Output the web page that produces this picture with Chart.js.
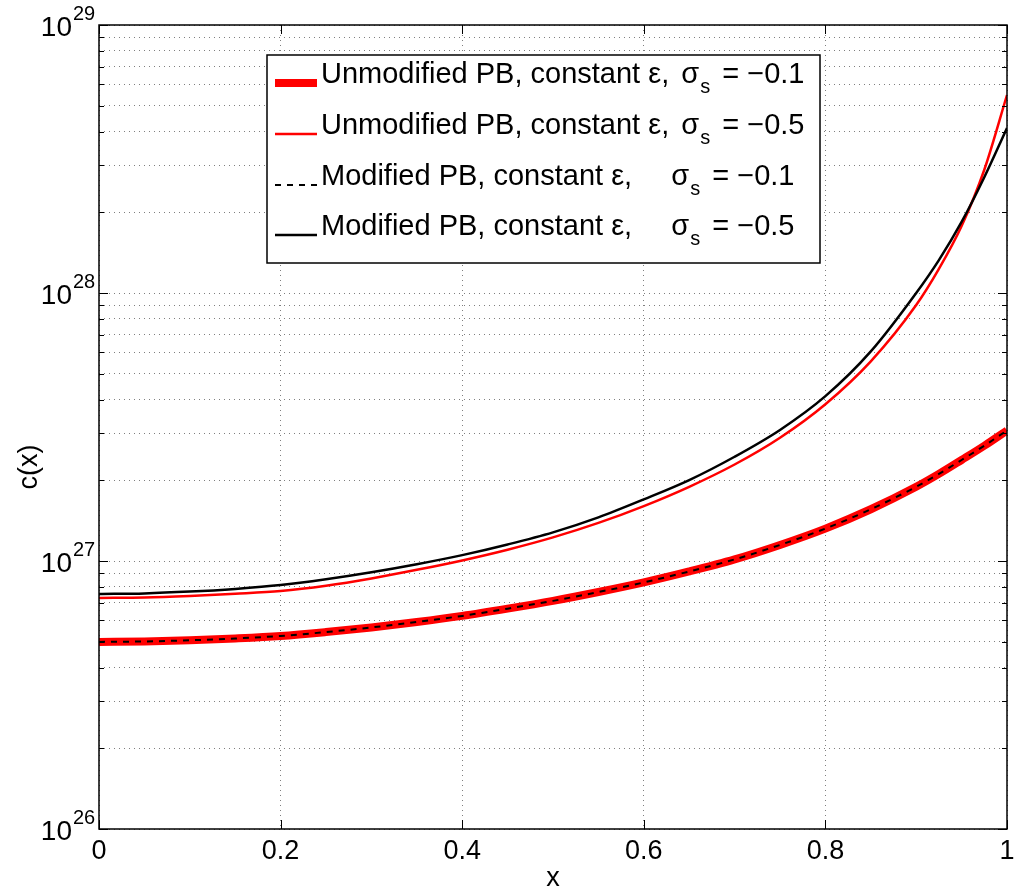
<!DOCTYPE html>
<html>
<head>
<meta charset="utf-8">
<script src="https://cdn.jsdelivr.net/npm/chart.js@4.4.0/dist/chart.umd.min.js"></script>
<style>
  html, body { margin: 0; padding: 0; background: #fff; }
  #wrap { width: 1016px; height: 895px; }
</style>
</head>
<body>
<div id="wrap"><canvas id="chart" width="1016" height="895"></canvas></div>
<script>
// values
const xValues = [0, 0.05, 0.1, 0.15, 0.2, 0.25, 0.3, 0.35, 0.4, 0.45, 0.5, 0.55, 0.6, 0.65, 0.7, 0.75, 0.8, 0.85, 0.9, 0.925, 0.95, 0.975, 1];
const unmodLow  = [4.99e26, 5.01e26, 5.06e26, 5.14e26, 5.25e26, 5.43e26, 5.65e26, 5.92e26, 6.24e26, 6.64e26, 7.10e26, 7.66e26, 8.32e26, 9.14e26, 1.014e27, 1.148e27, 1.321e27, 1.56e27, 1.892e27, 2.113e27, 2.382e27, 2.692e27, 3.069e27];
const unmodHigh = [7.28e26, 7.31e26, 7.41e26, 7.55e26, 7.73e26, 8.09e26, 8.61e26, 9.27e26, 1.005e27, 1.102e27, 1.225e27, 1.387e27, 1.603e27, 1.892e27, 2.291e27, 2.884e27, 3.846e27, 5.559e27, 9.016e27, 1.23e28, 1.778e28, 2.884e28, 5.48e28];
const modLow    = [4.99e26, 5.01e26, 5.06e26, 5.14e26, 5.25e26, 5.43e26, 5.65e26, 5.92e26, 6.24e26, 6.64e26, 7.10e26, 7.66e26, 8.32e26, 9.14e26, 1.014e27, 1.148e27, 1.321e27, 1.56e27, 1.892e27, 2.113e27, 2.382e27, 2.692e27, 3.069e27];
const modHigh   = [7.53e26, 7.57e26, 7.69e26, 7.87e26, 8.13e26, 8.55e26, 9.08e26, 9.73e26, 1.052e27, 1.153e27, 1.279e27, 1.455e27, 1.698e27, 2.004e27, 2.449e27, 3.083e27, 4.121e27, 6.053e27, 1.0e28, 1.327e28, 1.841e28, 2.704e28, 4.13e28];

const xTicks = [0, 0.2, 0.4, 0.6, 0.8, 1];
const xTickLabels = ['0', '0.2', '0.4', '0.6', '0.8', '1'];
const yDecades = [26, 27, 28, 29];

const legendText = ['Unmodified PB, constant \u03b5, ', 'Unmodified PB, constant \u03b5, ', 'Modified PB, constant \u03b5,', 'Modified PB, constant \u03b5,'];
const legendSigma = ['\u22120.1', '\u22120.5', '\u22120.1', '\u22120.5'];

const FONT = '"Liberation Sans", Arial, Helvetica, sans-serif';

// all log grid positions: 1..9 x 10^n
const yTickValues = [];
yDecades.forEach((e, i) => {
    if (i === yDecades.length - 1) { yTickValues.push(Math.pow(10, e)); return; }
    for (let m = 1; m <= 9; m++) yTickValues.push(m * Math.pow(10, e));
});

const toPoints = arr => arr.map((v, i) => ({ x: xValues[i], y: v }));

const decoPlugin = {
    id: 'deco',
    afterDraw(chart) {
        const ctx = chart.ctx;
        const a = chart.chartArea;
        const xs = chart.scales.x, ys = chart.scales.y;
        ctx.save();

        // inward tick marks, like matlab
        ctx.strokeStyle = '#000';
        ctx.lineWidth = 1;
        ctx.setLineDash([]);
        ctx.beginPath();
        yTickValues.forEach(v => {
            const py = Math.round(ys.getPixelForValue(v)) + 0.5;
            const len = Math.abs(Math.log10(v) - Math.round(Math.log10(v))) < 1e-9 ? 9 : 5;
            ctx.moveTo(a.left, py); ctx.lineTo(a.left + len, py);
            ctx.moveTo(a.right, py); ctx.lineTo(a.right - len, py);
        });
        xTicks.forEach(v => {
            const px = Math.round(xs.getPixelForValue(v)) + 0.5;
            ctx.moveTo(px, a.bottom); ctx.lineTo(px, a.bottom - 9);
            ctx.moveTo(px, a.top); ctx.lineTo(px, a.top + 9);
        });
        ctx.stroke();

        // box
        ctx.lineWidth = 1.5;
        ctx.strokeRect(a.left, a.top, a.right - a.left, a.bottom - a.top);

        // tick labels
        ctx.fillStyle = '#000';
        ctx.font = '27px ' + FONT;
        ctx.textAlign = 'center';
        ctx.textBaseline = 'alphabetic';
        xTicks.forEach((v, i) => {
            ctx.fillText(xTickLabels[i], xs.getPixelForValue(v), a.bottom + 30);
        });
        yDecades.forEach(e => {
            const py = ys.getPixelForValue(Math.pow(10, e));
            ctx.textAlign = 'right';
            ctx.font = '28px ' + FONT;
            ctx.fillText('10', a.left - 27, py + 11);
            ctx.textAlign = 'left';
            ctx.font = '20px ' + FONT;
            ctx.fillText(String(e), a.left - 26, py - 5);
        });

        // axis titles
        ctx.font = '27px ' + FONT;
        ctx.textAlign = 'center';
        ctx.fillText('x', (a.left + a.right) / 2, a.bottom + 57);
        ctx.save();
        ctx.translate(37, (a.top + a.bottom) / 2 + 40);
        ctx.rotate(-Math.PI / 2);
        ctx.fillText('c(x)', 0, 0);
        ctx.restore();

        // legend
        const bx = 267, by = 55, bw = 553, bh = 208;
        ctx.fillStyle = '#fff';
        ctx.fillRect(bx, by, bw, bh);
        ctx.strokeStyle = '#000';
        ctx.lineWidth = 1.5;
        ctx.strokeRect(bx, by, bw, bh);

        const rowY = [83, 134, 185, 235];
        const textX = 321;
        ctx.font = '29px ' + FONT;
        const sigX0 = textX + ctx.measureText(legendText[0]).width + 4;
        chart.data.datasets.forEach((ds, i) => {
            const yy = rowY[i];
            ctx.strokeStyle = ds.borderColor;
            ctx.lineWidth = ds.borderWidth;
            ctx.setLineDash(ds.borderDash || []);
            ctx.beginPath();
            ctx.moveTo(275, yy); ctx.lineTo(317, yy);
            ctx.stroke();
            ctx.setLineDash([]);

            ctx.fillStyle = '#000';
            ctx.textAlign = 'left';
            ctx.font = '29px ' + FONT;
            ctx.fillText(legendText[i], textX, yy);
            const sx = i < 2 ? sigX0 : sigX0 - 10;
            ctx.fillText('\u03c3', sx, yy);
            const sw = ctx.measureText('\u03c3').width;
            ctx.font = '20px ' + FONT;
            ctx.fillText('s', sx + sw + 1, yy + 10);
            const subW = ctx.measureText('s').width;
            ctx.font = '29px ' + FONT;
            ctx.fillText(' = ' + legendSigma[i], sx + sw + subW + 5, yy);
        });

        ctx.restore();
    }
};

new Chart(document.getElementById('chart'), {
    type: 'line',
    data: {
        datasets: [
            { label: 'Unmodified PB, constant \u03b5, \u03c3s = \u22120.1', data: toPoints(unmodLow), borderColor: '#ff0000', borderWidth: 8, order: 4 },
            { label: 'Unmodified PB, constant \u03b5, \u03c3s = \u22120.5', data: toPoints(unmodHigh), borderColor: '#ff0000', borderWidth: 2.5, order: 3 },
            { label: 'Modified PB, constant \u03b5, \u03c3s = \u22120.1', data: toPoints(modLow), borderColor: '#000000', borderWidth: 2, borderDash: [6, 6], order: 2 },
            { label: 'Modified PB, constant \u03b5, \u03c3s = \u22120.5', data: toPoints(modHigh), borderColor: '#000000', borderWidth: 2.5, order: 1 }
        ]
    },
    options: {
        responsive: false,
        animation: false,
        devicePixelRatio: 1,
        layout: { padding: { left: 99, right: 9, top: 25, bottom: 66 } },
        elements: {
            point: { radius: 0 },
            line: { cubicInterpolationMode: 'monotone', fill: false }
        },
        plugins: { legend: { display: false }, tooltip: { enabled: false } },
        scales: {
            x: {
                type: 'linear', min: 0, max: 1,
                afterBuildTicks: s => { s.ticks = xTicks.map(v => ({ value: v })); },
                afterFit: s => { s.height = 0; },
                ticks: { display: false },
                grid: { color: 'rgba(0,0,0,0.5)', lineWidth: 1, drawTicks: false },
                border: { display: false, dash: [1, 4] }
            },
            y: {
                type: 'logarithmic', min: 1e26, max: 1e29,
                afterBuildTicks: s => { s.ticks = yTickValues.map(v => ({ value: v })); },
                afterFit: s => { s.width = 0; },
                ticks: { display: false },
                grid: { color: 'rgba(0,0,0,0.5)', lineWidth: 1, drawTicks: false },
                border: { display: false, dash: [1, 4] }
            }
        }
    },
    plugins: [decoPlugin]
});
</script>
</body>
</html>
